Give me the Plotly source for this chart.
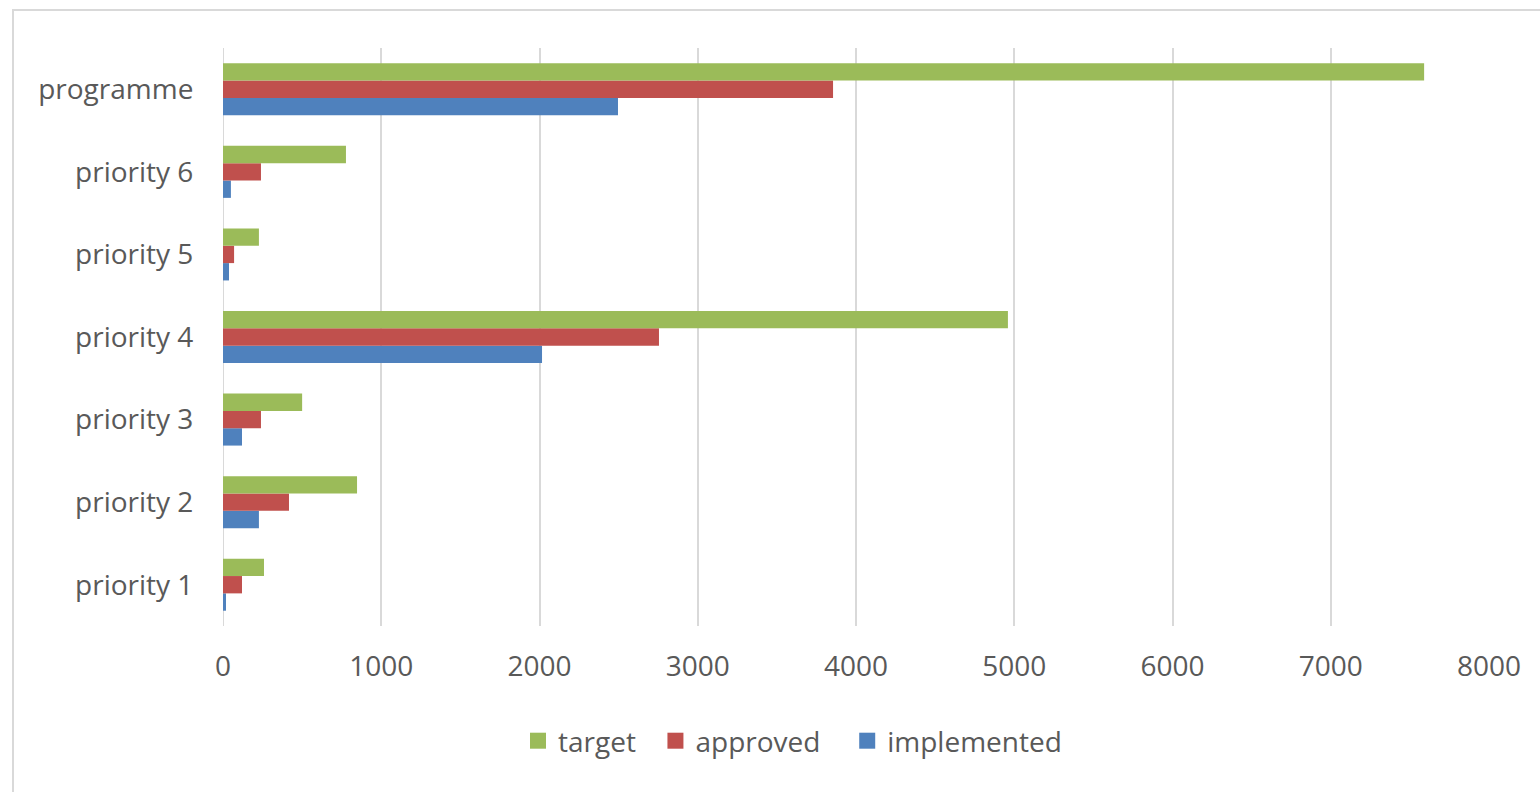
import plotly.graph_objects as go

categories = ["priority 1", "priority 2", "priority 3", "priority 4", "priority 5", "priority 6", "programme"]
target = [259, 847, 500, 4960, 227, 777, 7590]
approved = [120, 417, 240, 2755, 70, 240, 3855]
implemented = [19, 227, 120, 2016, 38, 50, 2496]
x_ticks = [0, 1000, 2000, 3000, 4000, 5000, 6000, 7000, 8000]

FONT = "Open Sans"
TXT = "#595959"
FS = 28
COLORS = {"target": "#9BBB59", "approved": "#C0504D", "implemented": "#4F81BD"}
NBSP = "\u00a0"
LEGEND_LABELS = {"target": "target" + NBSP * 2, "approved": "approved" + NBSP * 3,
                 "implemented": "implemented"}

fig = go.Figure()
for name, vals in [("implemented", implemented), ("approved", approved), ("target", target)]:
    fig.add_trace(go.Bar(y=categories, x=vals, name=name, orientation="h",
                         marker=dict(color=COLORS[name], line=dict(width=0)), showlegend=False))

for rank, name in enumerate(["target", "approved", "implemented"], start=1):
    fig.add_trace(go.Scatter(x=[None], y=[None], mode="markers", name=LEGEND_LABELS[name],
                             marker=dict(symbol="square", size=19, color=COLORS[name]),
                             legendrank=rank, showlegend=True))

L, R, T, B = 223, 51, 48, 166
pw = 1540 - L - R
ph = 792 - T - B

def px_x(p):
    return (p - L) / pw

def px_y(p):
    return (792 - B - p) / ph

fig.update_layout(
    width=1540, height=792,
    margin=dict(l=L, r=R, t=T, b=B, autoexpand=False),
    paper_bgcolor="white", plot_bgcolor="white",
    barmode="group", bargap=0.37, bargroupgap=0,
    font=dict(family=FONT, color=TXT, size=FS),
    xaxis=dict(range=[0, 8000], tickvals=x_ticks, showgrid=True, gridcolor="#D9D9D9", gridwidth=2,
               zeroline=False, showline=False, ticks="outside", ticklen=15,
               tickcolor="rgba(0,0,0,0)", tickfont=dict(size=FS, color=TXT, family=FONT)),
    yaxis=dict(categoryorder="array", categoryarray=categories, showgrid=False, zeroline=False,
               showline=False, ticks="outside", ticklen=23, tickcolor="rgba(0,0,0,0)",
               tickfont=dict(size=FS, color=TXT, family=FONT)),
    legend=dict(orientation="h", x=px_x(792.5), xanchor="center", y=px_y(741), yanchor="middle",
                font=dict(size=FS, color=TXT, family=FONT), itemwidth=30, itemsizing="trace",
                bgcolor="rgba(0,0,0,0)"),
    showlegend=True,
)

fig.add_shape(type="line", xref="x", yref="paper", x0=0, x1=0, y0=0, y1=1,
              line=dict(color="#D9D9D9", width=2), layer="below")

fig.add_shape(type="rect", xref="paper", yref="paper",
              x0=px_x(13), x1=px_x(1560), y0=px_y(820), y1=px_y(10),
              line=dict(color="#D9D9D9", width=2), fillcolor="rgba(0,0,0,0)")

fig.write_html("out.html")
